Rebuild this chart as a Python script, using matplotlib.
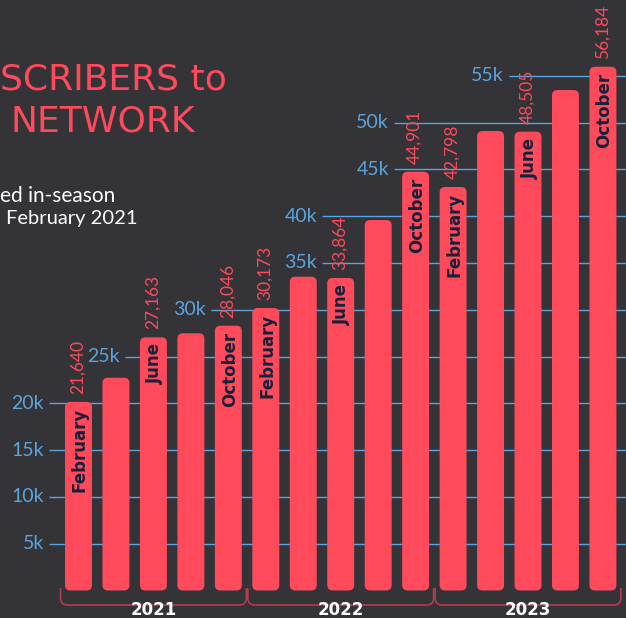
#!/usr/bin/env python3
"""Subscribers bar chart, dark theme, cropped view -- matplotlib Agg."""
import matplotlib
matplotlib.use("Agg")
import matplotlib.pyplot as plt
from matplotlib.patches import FancyBboxPatch, PathPatch
from matplotlib.path import Path

# --- data ------------------------------------------------------------------
years = ["2021", "2022", "2023"]
bar_months = ["February", "", "June", "", "October",
              "February", "", "June", "", "October",
              "February", "", "June", "", "October"]
subscribers = [20150, 22735, 27050, 27480, 28290,
               30180, 33525, 33390, 39580, 44740,
               43110, 49090, 49020, 53470, 55960]
value_labels = ["21,640", "", "27,163", "", "28,046",
                "30,173", "", "33,864", "", "44,901",
                "42,798", "", "48,505", "", "56,184"]
tick_values = [5000, 10000, 15000, 20000, 25000, 30000,
               35000, 40000, 45000, 50000, 55000]
tick_labels = ["5k", "10k", "15k", "20k", "25k", "30k",
               "35k", "40k", "45k", "50k", "55k"]

# --- layout (pixels of the 626x618 canvas) ---------------------------------
W, H = 626, 618
X0_PX, STEP_PX = 78.5, 37.46          # centre of first bar, bar pitch
Y0_PX, PX_PER_UNIT = 590.5, 46.8 / 5000
TICK_START_PX = [49, 49, 49, 49, 125, 211, 322, 322, 394, 394, 509]

BG = "#333338"
RED = "#ff4a5b"
BRACE = "#b23e4b"
BLUE = "#5ba4dc"
NAVY = "#16213a"
FONT = "Lato"
HEAVY = "DejaVu Sans"


def px_x(px):
    return (px - X0_PX) / STEP_PX


def px_y(py):
    return (Y0_PX - py) / PX_PER_UNIT


def main():
    fig = plt.figure(figsize=(W / 100, H / 100), dpi=100, facecolor=BG)
    ax = fig.add_axes([0, 0, 1, 1])
    ax.set_facecolor(BG)
    ax.set_xlim(px_x(0), px_x(W))
    ax.set_ylim(px_y(H), px_y(0))
    ax.set_axis_off()

    # staircase gridlines + labels
    for v, lab, sx in zip(tick_values, tick_labels, TICK_START_PX):
        ax.plot([px_x(sx), px_x(W)], [v, v], color=BLUE, lw=1.0, zorder=1,
                solid_capstyle="butt")
        ax.text(px_x(sx - 5), v, lab, color=BLUE, fontsize=14, family=FONT,
                ha="right", va="center")

    # rounded bars (corner radius ~5.5 px in both directions)
    bw = 0.72
    r = 5.5 / STEP_PX
    aspect = STEP_PX / PX_PER_UNIT
    for i, h in enumerate(subscribers):
        p = FancyBboxPatch((i - bw / 2, 0), bw, h,
                           boxstyle=f"round,pad=0,rounding_size={r}",
                           mutation_aspect=aspect, fc=RED, ec="none", zorder=2)
        ax.add_patch(p)
        if bar_months[i]:
            ax.text(i + 0.04, h - 6 / PX_PER_UNIT, bar_months[i], rotation=90,
                    color=NAVY, fontsize=12, family=HEAVY, fontweight="bold",
                    ha="center", va="top", zorder=3)
        if value_labels[i]:
            ax.text(i - 0.02, h + 8 / PX_PER_UNIT, value_labels[i], rotation=90,
                    color=RED, fontsize=12.5, family=FONT,
                    ha="center", va="bottom", zorder=3)

    # year braces
    top, bot = px_y(588), px_y(605)
    rx, ry = 7 / STEP_PX, 7 / PX_PER_UNIT
    for g, yr in enumerate(years):
        xl, xr = 5 * g - 0.48, 5 * g + 4.48
        verts = [(xl, top), (xl, bot + ry), (xl, bot), (xl + rx, bot),
                 (xr - rx, bot), (xr, bot), (xr, bot + ry), (xr, top)]
        codes = [Path.MOVETO, Path.LINETO, Path.CURVE3, Path.CURVE3,
                 Path.LINETO, Path.CURVE3, Path.CURVE3, Path.LINETO]
        ax.add_patch(PathPatch(Path(verts, codes), fc="none", ec=BRACE,
                               lw=1.2, zorder=2))
        ax.text(5 * g + 2, px_y(610), yr, color="white", fontsize=12,
                family=HEAVY, fontweight="bold", ha="center", va="center")

    # title / subtitle (cropped on the left in the source)
    fig.text(0 / W, 1 - 90 / H, "SCRIBERS to", color=RED, fontsize=26,
             family=HEAVY, ha="left", va="baseline")
    fig.text(10 / W, 1 - 132 / H, "NETWORK", color=RED, fontsize=26,
             family=HEAVY, ha="left", va="baseline")
    fig.text(0 / W, 1 - 202 / H, "ed in-season", color="white", fontsize=15,
             family=FONT, ha="left", va="baseline")
    fig.text(6 / W, 1 - 224 / H, "February 2021", color="white", fontsize=14.5,
             family=FONT, ha="left", va="baseline")

    fig.savefig("out.png", dpi=100, facecolor=BG)


if __name__ == "__main__":
    main()
